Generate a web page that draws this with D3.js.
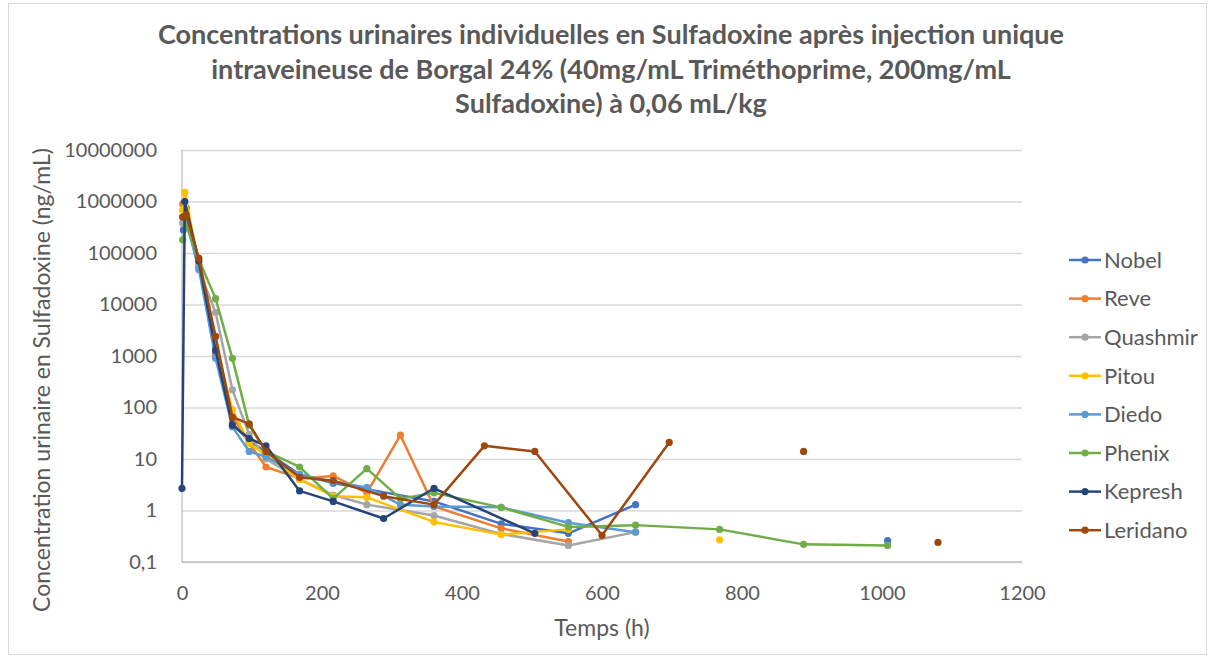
<!DOCTYPE html>
<html>
<head>
<meta charset="utf-8">
<script src="https://cdn.jsdelivr.net/npm/d3@7"></script>
<style>
	body { margin: 0; background: #fff; }
	text { font-family: Lato, "Open Sans", sans-serif; fill: #595959; }
</style>
</head>
<body>
<svg id="chart"></svg>
<script>
// chart data (hours, ng/mL) - null marks a gap in the line
const seriesNames = ["Nobel", "Reve", "Quashmir", "Pitou", "Diedo", "Phenix", "Kepresh", "Leridano"]
const seriesColors = ["#4472C4", "#ED7D31", "#A5A5A5", "#FFC000", "#5B9BD5", "#70AD47", "#264478", "#9E480E"]

const nobel = [[2, 280000], [6, 750000], [24, 60000], [48, 1100], [72, 50], [96, 22], [120, 14], [168, 5], [216, 3.4], [264, 2.6], [360, 1.5], [456, 0.55], [552, 0.36], [648, 1.3], null, [1008, 0.26]]
const reve = [[1, 900000], [6, 600000], [24, 55000], [48, 1000], [72, 70], [96, 20], [120, 7], [168, 4.2], [216, 4.7], [264, 2.2], [312, 29], [360, 1.2], [456, 0.45], [552, 0.25]]
const quashmir = [[1, 380000], [6, 500000], [24, 47000], [48, 7000], [72, 220], [96, 30], [120, 10], [168, 4], [216, 2], [264, 1.3], [360, 0.8], [456, 0.35], [552, 0.21], [648, 0.38]]
const pitou = [[1, 680000], [4, 1500000], [24, 60000], [48, 1500], [72, 90], [96, 20], [120, 12], [168, 4], [216, 1.9], [264, 1.8], [360, 0.6], [456, 0.34], [552, 0.43], null, [768, 0.27]]
const diedo = [[1, 500000], [6, 400000], [24, 50000], [48, 900], [72, 42], [96, 14], [120, 11], [168, 5], [216, 3.6], [264, 2.8], [312, 1.3], [360, 1.2], [456, 1.15], [552, 0.58], [648, 0.38]]
const phenix = [[1, 180000], [6, 350000], [24, 75000], [48, 13000], [72, 900], [96, 45], [120, 14], [168, 7], [216, 1.7], [264, 6.5], [312, 1.7], [360, 2.2], [456, 1.15], [552, 0.48], [648, 0.52], [768, 0.43], [888, 0.22], [1008, 0.21]]
const kepresh = [[0, 2.7], [4, 1000000], [24, 70000], [48, 1300], [72, 45], [96, 25], [120, 18], [168, 2.4], [216, 1.5], [288, 0.7], [360, 2.7], [504, 0.36]]
const leridano = [[1, 500000], [6, 550000], [24, 80000], [48, 2400], [72, 65], [96, 48], [120, 14], [168, 4.4], [216, 3.8], [288, 1.9], [360, 1.3], [432, 18], [504, 14], [600, 0.33], [696, 21], null, [888, 14], null, [1080, 0.24]]

const allSeries = [nobel, reve, quashmir, pitou, diedo, phenix, kepresh, leridano]

const xTicks = [0, 200, 400, 600, 800, 1000, 1200]
const yTicks = [0.1, 1, 10, 100, 1000, 10000, 100000, 1000000, 10000000]

const titleLines = [
	"Concentrations urinaires individuelles en Sulfadoxine après injection unique",
	"intraveineuse de Borgal 24% (40mg/mL Triméthoprime, 200mg/mL",
	"Sulfadoxine) à 0,06 mL/kg"
]
const xTitle = "Temps (h)"
const yTitle = "Concentration urinaire en Sulfadoxine (ng/mL)"

const width = 1214, height = 660
const plot = { left: 182, right: 1022, top: 150, bottom: 562 }

const svg = d3.select("#chart")
	.attr("width", width)
	.attr("height", height)

// outer frame
svg.append("rect")
	.attr("x", 8.5).attr("y", 3.5)
	.attr("width", 1198).attr("height", 651)
	.attr("fill", "#fff")
	.attr("stroke", "#d9d9d9")

const x = d3.scaleLinear().domain([0, 1200]).range([plot.left, plot.right])
const y = d3.scaleLog().domain([0.1, 10000000]).range([plot.bottom, plot.top])

// gridlines
svg.append("g")
	.attr("transform", `translate(${plot.left},0)`)
	.call(d3.axisLeft(y).tickValues(yTicks).tickSize(-(plot.right - plot.left)).tickFormat(""))
	.call(g => g.select(".domain").remove())
	.call(g => g.selectAll("line").attr("stroke", "#d9d9d9").attr("stroke-width", 1.3))

// axis lines
svg.append("line")
	.attr("x1", plot.left).attr("x2", plot.left)
	.attr("y1", plot.top).attr("y2", plot.bottom)
	.attr("stroke", "#bfbfbf").attr("stroke-width", 1.3)
svg.append("line")
	.attr("x1", plot.left).attr("x2", plot.right)
	.attr("y1", plot.bottom).attr("y2", plot.bottom)
	.attr("stroke", "#bfbfbf").attr("stroke-width", 1.3)

// tick labels
svg.append("g")
	.attr("transform", `translate(${plot.left},0)`)
	.call(d3.axisLeft(y).tickValues(yTicks).tickSize(0).tickPadding(25)
		.tickFormat(d => String(d).replace(".", ",")))
	.call(g => g.select(".domain").remove())
	.call(g => g.selectAll("text").attr("font-size", 20).attr("font-family", "Lato").attr("fill", "#595959"))

svg.append("g")
	.attr("transform", `translate(0,${plot.bottom})`)
	.call(d3.axisBottom(x).tickValues(xTicks).tickSize(0).tickPadding(24).tickFormat(d => String(d)))
	.call(g => g.select(".domain").remove())
	.call(g => g.selectAll("text").attr("font-size", 20).attr("font-family", "Lato").attr("fill", "#595959"))

// lines and markers
const line = d3.line()
	.defined(d => d != null)
	.x(d => x(d[0]))
	.y(d => y(d[1]))

allSeries.forEach((data, i) => {
	const color = seriesColors[i]
	svg.append("path")
		.datum(data)
		.attr("fill", "none")
		.attr("stroke", color)
		.attr("stroke-width", 2.5)
		.attr("stroke-linejoin", "round")
		.attr("stroke-linecap", "round")
		.attr("d", line)
	svg.append("g")
		.selectAll("circle")
		.data(data.filter(d => d != null))
		.join("circle")
		.attr("cx", d => x(d[0]))
		.attr("cy", d => y(d[1]))
		.attr("r", 3.6)
		.attr("fill", color)
})

// title
svg.append("text")
	.attr("text-anchor", "middle")
	.attr("font-size", 27)
	.attr("font-weight", "bold")
	.selectAll("tspan")
	.data(titleLines)
	.join("tspan")
	.attr("x", 611)
	.attr("y", (d, i) => 44 + i * 34.5)
	.text(d => d)

// axis titles
svg.append("text")
	.attr("x", (plot.left + plot.right) / 2)
	.attr("y", 636)
	.attr("text-anchor", "middle")
	.attr("font-size", 23)
	.text(xTitle)

svg.append("text")
	.attr("transform", "translate(50,380) rotate(-90)")
	.attr("text-anchor", "middle")
	.attr("font-size", 23)
	.text(yTitle)

// legend
const legend = svg.append("g")
seriesNames.forEach((name, i) => {
	const ly = 260 + i * 38.6
	legend.append("line")
		.attr("x1", 1069).attr("x2", 1101)
		.attr("y1", ly).attr("y2", ly)
		.attr("stroke", seriesColors[i]).attr("stroke-width", 2.5)
	legend.append("circle")
		.attr("cx", 1085).attr("cy", ly).attr("r", 3.6)
		.attr("fill", seriesColors[i])
	legend.append("text")
		.attr("x", 1104).attr("y", ly)
		.attr("dy", "0.35em")
		.attr("font-size", 22)
		.text(name)
})
</script>
</body>
</html>
